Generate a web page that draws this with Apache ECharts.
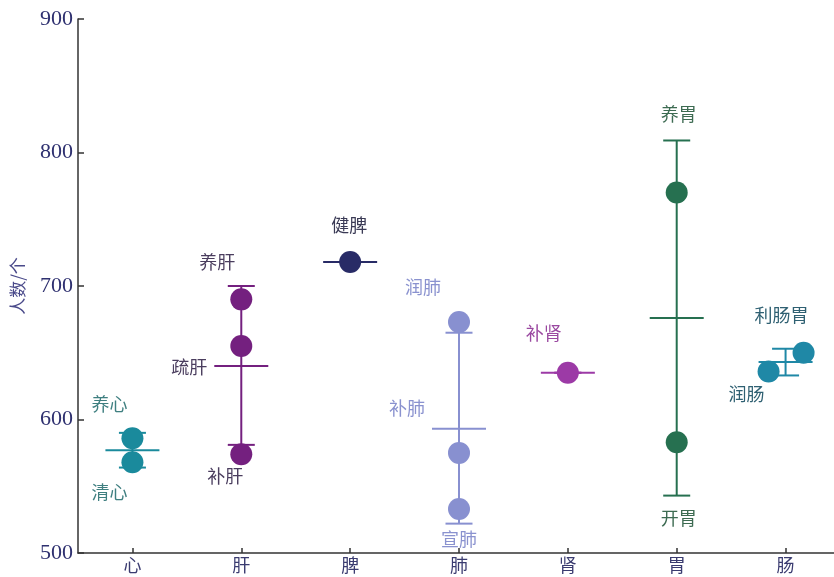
<!DOCTYPE html>
<html>
<head>
<meta charset="utf-8">
<script src="https://cdn.jsdelivr.net/npm/echarts@6/dist/echarts.min.js"></script>
<style>
html,body{margin:0;padding:0;background:#fff;}
#main{width:834px;height:577px;}
</style>
</head>
<body>
<div id="main"></div>
<script>
// ---- data ----
const categories = ['心', '肝', '脾', '肺', '肾', '胃', '肠'];
const yTicks = [500, 600, 700, 800, 900];
// individual points: category index, name, value
const pointCat = [0, 0, 1, 1, 1, 2, 3, 3, 3, 4, 5, 5, 6, 6];
const pointNames = ['养心', '清心', '养肝', '疏肝', '补肝', '健脾', '润肺', '补肺', '宣肺', '补肾', '养胃', '开胃', '润肠', '利肠胃'];
const pointValues = [586, 568, 690, 655, 574, 718, 673, 575, 533, 635, 770, 583, 636, 650];
// group statistics per category
const meanValues = [577, 640, 718, 593, 635, 676, 643];
const lowerValues = [564, 581, 718, 522, 635, 543, 633];
const upperValues = [590, 700, 718, 665, 635, 809, 653];

// ---- styles ----
const groupColors = ['#1a8a9c', '#74207f', '#282b66', '#8890d0', '#9c3aa6', '#267050', '#1f88a6'];
const labelColors = ['#3f7f80', '#4a3d5e', '#3a3a55', '#8a92cf', '#9a48a0', '#3d6b52', '#2f6072'];
const pointShift = [0, 0, 0, 0, 0, 0, 0, 0, 0, 0, 0, 0, -17, 18];
const labelOffsets = [[-23, -34], [-23, 30], [-24, -37], [-52, 21], [-16, 22], [-1, -37], [-36, -35], [-52, -45], [0, 30], [-24, -40], [2, -78], [2, 76], [-22, 23], [-22, -38]];

const chart = echarts.init(document.getElementById('main'));

const errData = categories.map((c, i) => [i, meanValues[i], lowerValues[i], upperValues[i]]);

const scatterData = pointValues.map((v, i) => ({
  value: [pointCat[i], v],
  name: pointNames[i],
  symbolOffset: [pointShift[i], 0],
  itemStyle: { color: groupColors[pointCat[i]], opacity: 1 },
  label: {
    show: true,
    position: 'inside',
    offset: labelOffsets[i],
    formatter: pointNames[i],
    color: labelColors[pointCat[i]],
    fontSize: 18,
    fontFamily: 'Noto Sans CJK SC'
  }
}));

const option = {
  animation: false,
  backgroundColor: '#ffffff',
  grid: { left: 78, right: -6, top: 19, bottom: 24, containLabel: false, outerBoundsMode: 'none' },
  xAxis: {
    type: 'category',
    data: categories,
    boundaryGap: true,
    axisLine: { show: true, lineStyle: { color: '#333', width: 1.5 } },
    axisTick: { show: true, inside: true, alignWithLabel: true, length: 5, lineStyle: { color: '#333', width: 1.5 } },
    axisLabel: { color: '#3a3b70', fontSize: 18, fontFamily: 'Noto Sans CJK SC', margin: 3 },
    splitLine: { show: false }
  },
  yAxis: {
    type: 'value',
    min: yTicks[0],
    max: yTicks[yTicks.length - 1],
    interval: 100,
    name: '人数/个',
    nameLocation: 'middle',
    nameRotate: 90,
    nameGap: 52,
    nameTextStyle: { color: '#4a4a8a', fontSize: 17, fontFamily: 'Noto Sans CJK SC' },
    axisLine: { show: true, lineStyle: { color: '#333', width: 1.5 } },
    axisTick: { show: true, inside: true, length: 6, lineStyle: { color: '#333', width: 1.5 } },
    axisLabel: { color: '#2f3170', fontSize: 22, fontFamily: 'Liberation Serif', margin: 5 },
    splitLine: { show: false }
  },
  series: [
    {
      type: 'custom',
      z: 1,
      data: errData,
      renderItem: function (params, api) {
        const ci = api.value(0);
        const m = api.coord([ci, api.value(1)]);
        const lo = api.coord([ci, api.value(2)]);
        const hi = api.coord([ci, api.value(3)]);
        const col = groupColors[ci];
        const st = { stroke: col, lineWidth: 2 };
        const capW = 13.5, meanW = 27;
        return {
          type: 'group',
          children: [
            { type: 'line', shape: { x1: m[0], y1: lo[1], x2: m[0], y2: hi[1] }, style: st },
            { type: 'line', shape: { x1: m[0] - capW, y1: lo[1], x2: m[0] + capW, y2: lo[1] }, style: st },
            { type: 'line', shape: { x1: m[0] - capW, y1: hi[1], x2: m[0] + capW, y2: hi[1] }, style: st },
            { type: 'line', shape: { x1: m[0] - meanW, y1: m[1], x2: m[0] + meanW, y2: m[1] }, style: st }
          ]
        };
      }
    },
    {
      type: 'scatter',
      z: 3,
      symbol: 'circle',
      symbolSize: 22,
      data: scatterData
    }
  ]
};
chart.setOption(option);
</script>
</body>
</html>
